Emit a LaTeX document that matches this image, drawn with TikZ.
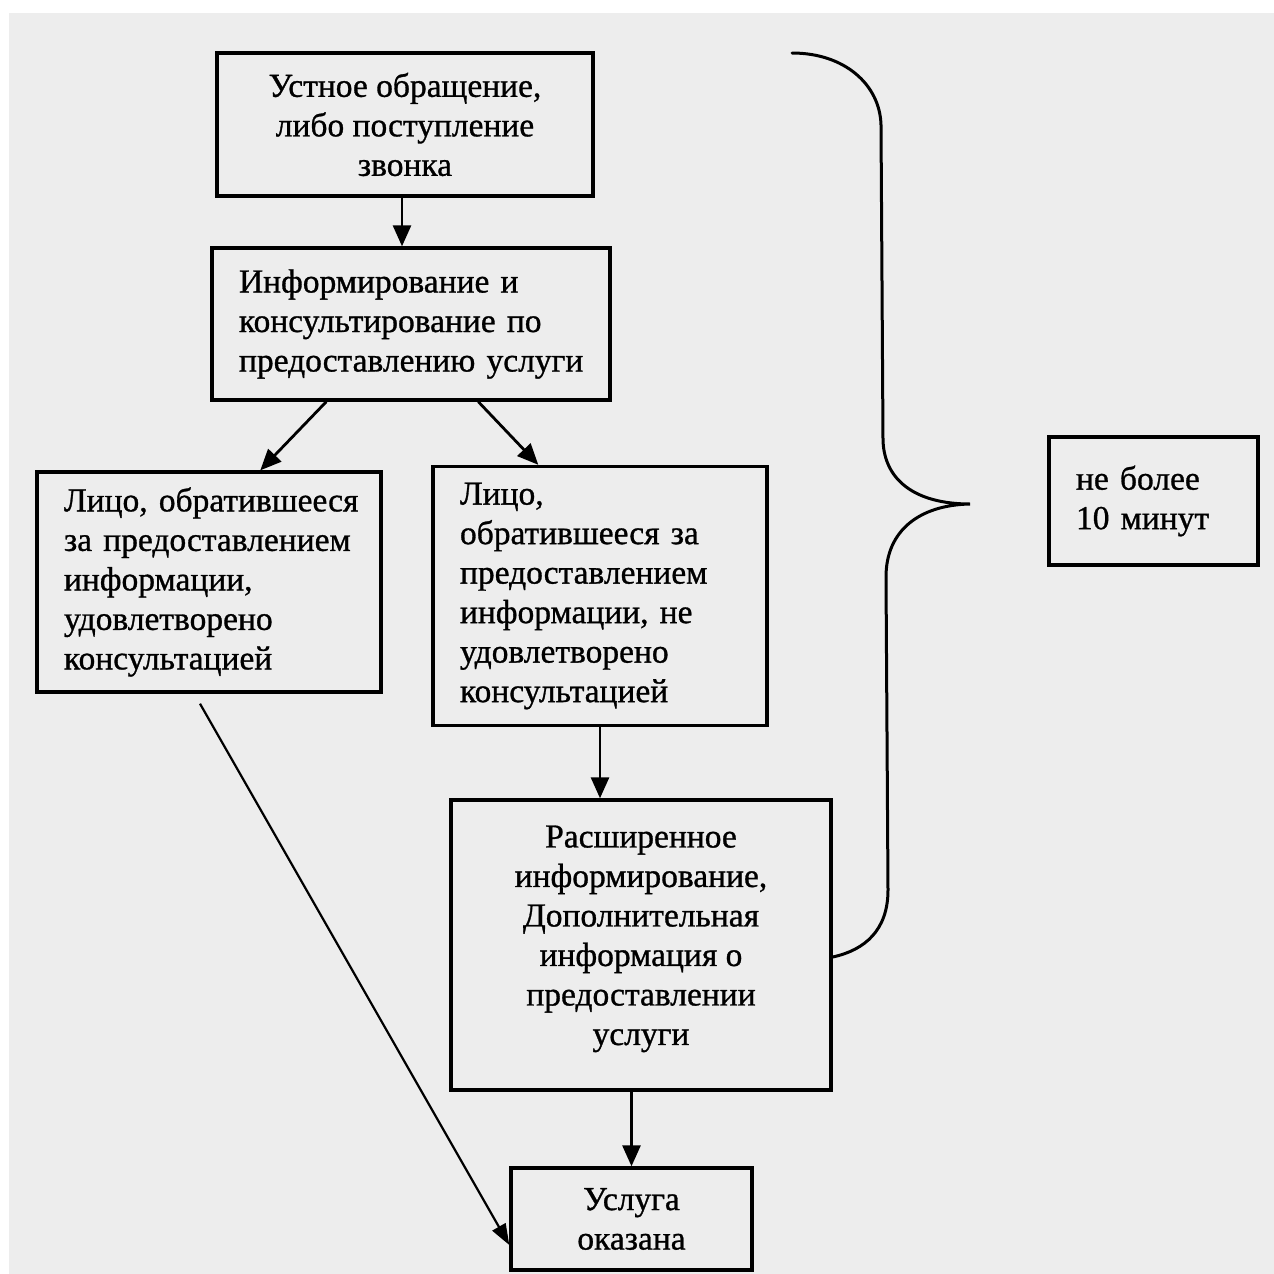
\documentclass[tikz,border=0pt]{standalone}
\usepackage{fontspec}
\setmainfont{Liberation Serif}[FakeBold=0.9]
\usetikzlibrary{arrows.meta,calc}
\definecolor{paper}{RGB}{237,237,237}
\tikzset{
  box/.style={draw=black, line width=3.4pt, rectangle, inner xsep=27pt, inner ysep=6pt,
    font=\fontsize{33.5}{39.5}\selectfont},
  lbox/.style={box, align=left},
  cbox/.style={box, align=center},
  arr/.style={line width=2.8pt, -{Triangle[length=21pt,width=18pt]}},
  thinarr/.style={line width=2.2pt, -{Triangle[length=21pt,width=15pt]}},
  bracel/.style={line width=3pt, line cap=round}
}
\begin{document}
\begin{tikzpicture}[x=1pt,y=-1pt]
\useasboundingbox (0,0) rectangle (1274,1274);
\fill[white] (0,0) rectangle (1274,1274);
\fill[paper] (9,13) rectangle (1274,1274);

\node[cbox, minimum width=376pt, minimum height=143pt] (b1) at (405,124.5)
  {Устное обращение,\\либо поступление\\звонка};
\node[lbox, text width=344pt, minimum height=152pt] (b2) at (411,324)
  {Информирование~и\\консультирование~по\\предоставлению~услуги};
\node[lbox, text width=290pt, minimum height=220pt] (b3) at (209,582)
  {Лицо,~обратившееся\\за~предоставлением\\информации,\\удовлетворено\\консультацией};
\node[lbox, text width=280pt, minimum height=259pt] (b4) at (600,596)
  {Лицо,\\обратившееся~за\\предоставлением\\информации,~не\\удовлетворено\\консультацией};
\node[cbox, minimum width=380pt, minimum height=290pt] (b5) at (641,945)
  {Расширенное\\информирование,\\Дополнительная\\информация~о\\предоставлении\\услуги\\[-20pt]\mbox{}};
\node[cbox, minimum width=241pt, minimum height=102pt] (b6) at (631.5,1219)
  {Услуга\\оказана};
\node[lbox, text width=155pt, minimum height=128pt] (b7) at (1153.5,501)
  {не~более\\10~минут};

\draw[arr] (b1.south -| 402,0) -- (402,0 |- b2.north);
\draw[arr] ($(b2.south west)+(116,0)$) -- ($(b3.north west)+(225,0)$);
\draw[arr] ($(b2.south west)+(268,0)$) -- ($(b4.north west)+(107,0)$);
\draw[arr] (b4.south) -- (b4.south |- b5.north);
\draw[arr] (b6.north |- b5.south) -- (b6.north);
\draw[thinarr] ($(b3.south)+(-9,10)$) -- ($(b6.west)+(0,26)$);

\coordinate (bt) at (792,53);
\coordinate (bc) at (970,504);
\coordinate (be) at ($(b5.east)+(0,12)$);
\draw[bracel] (bt) .. controls (845,53) and (880,85) .. (881,125)
  -- (883,440) .. controls (884,480) and (915,504) .. (bc)
  .. controls (920,505) and (886,530) .. (886,577)
  -- (888,890) .. controls (888,930) and (865,950) .. (be);
\end{tikzpicture}
\end{document}
